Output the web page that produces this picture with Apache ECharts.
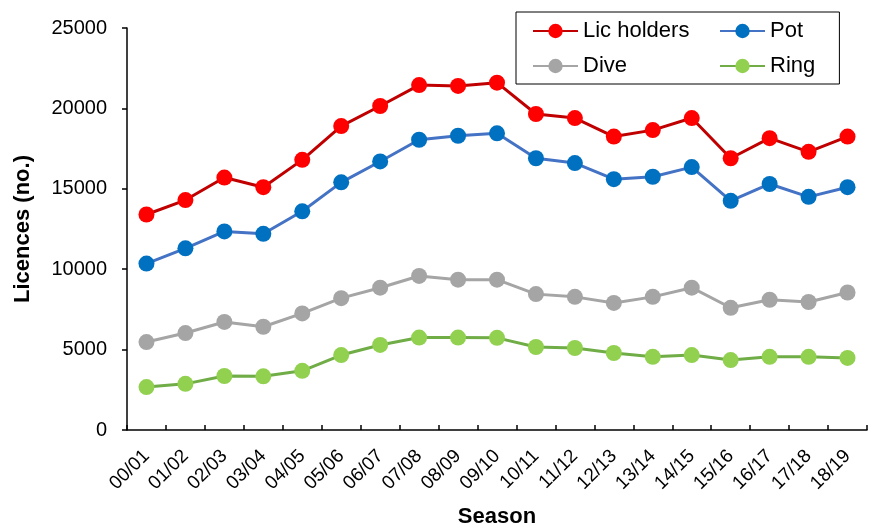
<!DOCTYPE html>
<html>
<head>
<meta charset="utf-8">
<script src="https://cdn.jsdelivr.net/npm/echarts@6/dist/echarts.min.js"></script>
<style>
  html, body { margin: 0; padding: 0; background: #fff; }
  #chart { width: 876px; height: 526px; }
</style>
</head>
<body>
<div id="chart"></div>
<script>
// seasons on the x axis
var seasons = ['00/01', '01/02', '02/03', '03/04', '04/05', '05/06', '06/07', '07/08', '08/09', '09/10',
  '10/11', '11/12', '12/13', '13/14', '14/15', '15/16', '16/17', '17/18', '18/19'];

// licences per season
var licHolders = [13400, 14300, 15700, 15100, 16800, 18900, 20150, 21450, 21400, 21600,
  19650, 19400, 18250, 18650, 19400, 16900, 18150, 17300, 18250];
var pot = [10350, 11300, 12350, 12200, 13600, 15400, 16700, 18050, 18300, 18450,
  16900, 16600, 15600, 15750, 16350, 14250, 15300, 14500, 15100];
var dive = [5470, 6030, 6720, 6420, 7250, 8200, 8850, 9580, 9350, 9350,
  8450, 8280, 7900, 8280, 8850, 7600, 8100, 7960, 8550];
var ring = [2670, 2870, 3360, 3340, 3680, 4660, 5290, 5750, 5750, 5730,
  5160, 5100, 4790, 4550, 4660, 4350, 4550, 4550, 4480];

var yTicks = [0, 5000, 10000, 15000, 20000, 25000];

var chart = echarts.init(document.getElementById('chart'));
var font = 'Liberation Sans, Arial, sans-serif';

function mkSeries(name, data, lineColor, dotColor) {
  return {
    name: name,
    type: 'line',
    data: data,
    symbol: 'circle',
    symbolSize: 16,
    lineStyle: { color: lineColor, width: 3 },
    itemStyle: { color: dotColor, borderWidth: 0 },
    emphasis: { disabled: true },
    animation: false
  };
}

var option = {
  backgroundColor: '#fff',
  textStyle: { fontFamily: font },
  grid: { left: 127, right: 9, top: 28, bottom: 96, outerBoundsMode: 'none', containLabel: false },
  legend: [{
    data: ['Lic holders', 'Dive'],
    orient: 'vertical',
    left: 516,
    top: 12,
    padding: [8, 150, 7, 16],
    itemWidth: 45,
    itemHeight: 18,
    itemGap: 13,
    borderColor: '#000',
    borderWidth: 1,
    textStyle: { fontSize: 22, color: '#000', fontFamily: font, width: 120 }
  }, {
    data: ['Pot', 'Ring'],
    orient: 'vertical',
    left: 719,
    top: 20,
    padding: 0,
    itemWidth: 45,
    itemHeight: 18,
    itemGap: 13,
    textStyle: { fontSize: 22, color: '#000', fontFamily: font }
  }],
  xAxis: {
    type: 'category',
    data: seasons,
    boundaryGap: true,
    name: 'Season',
    nameLocation: 'middle',
    nameGap: 76,
    nameTextStyle: { fontSize: 22, fontWeight: 'bold', color: '#000', fontFamily: font },
    axisLine: { lineStyle: { color: '#000', width: 1.5 } },
    axisTick: { show: true, inside: true, length: 5, alignWithLabel: false, lineStyle: { color: '#000', width: 1.5 } },
    axisLabel: { rotate: 45, interval: 0, fontSize: 19, color: '#000', margin: 23, fontFamily: font },
    splitLine: { show: false }
  },
  yAxis: {
    type: 'value',
    min: yTicks[0],
    max: yTicks[yTicks.length - 1],
    interval: yTicks[1] - yTicks[0],
    name: 'Licences (no.)',
    nameLocation: 'middle',
    nameRotate: 90,
    nameGap: 93,
    nameTextStyle: { fontSize: 22, fontWeight: 'bold', color: '#000', fontFamily: font },
    axisLine: { show: true, lineStyle: { color: '#000', width: 1.5 } },
    axisTick: { show: true, length: 5, lineStyle: { color: '#000', width: 1.5 } },
    axisLabel: { fontSize: 20, color: '#000', margin: 20, fontFamily: font, formatter: function (v) { return String(v); } },
    splitLine: { show: false }
  },
  series: [
    mkSeries('Lic holders', licHolders, '#C00000', '#FF0000'),
    mkSeries('Pot', pot, '#4472C4', '#0070C0'),
    mkSeries('Dive', dive, '#A5A5A5', '#A5A5A5'),
    mkSeries('Ring', ring, '#70AD47', '#92D050')
  ]
};

chart.setOption(option);
</script>
</body>
</html>
